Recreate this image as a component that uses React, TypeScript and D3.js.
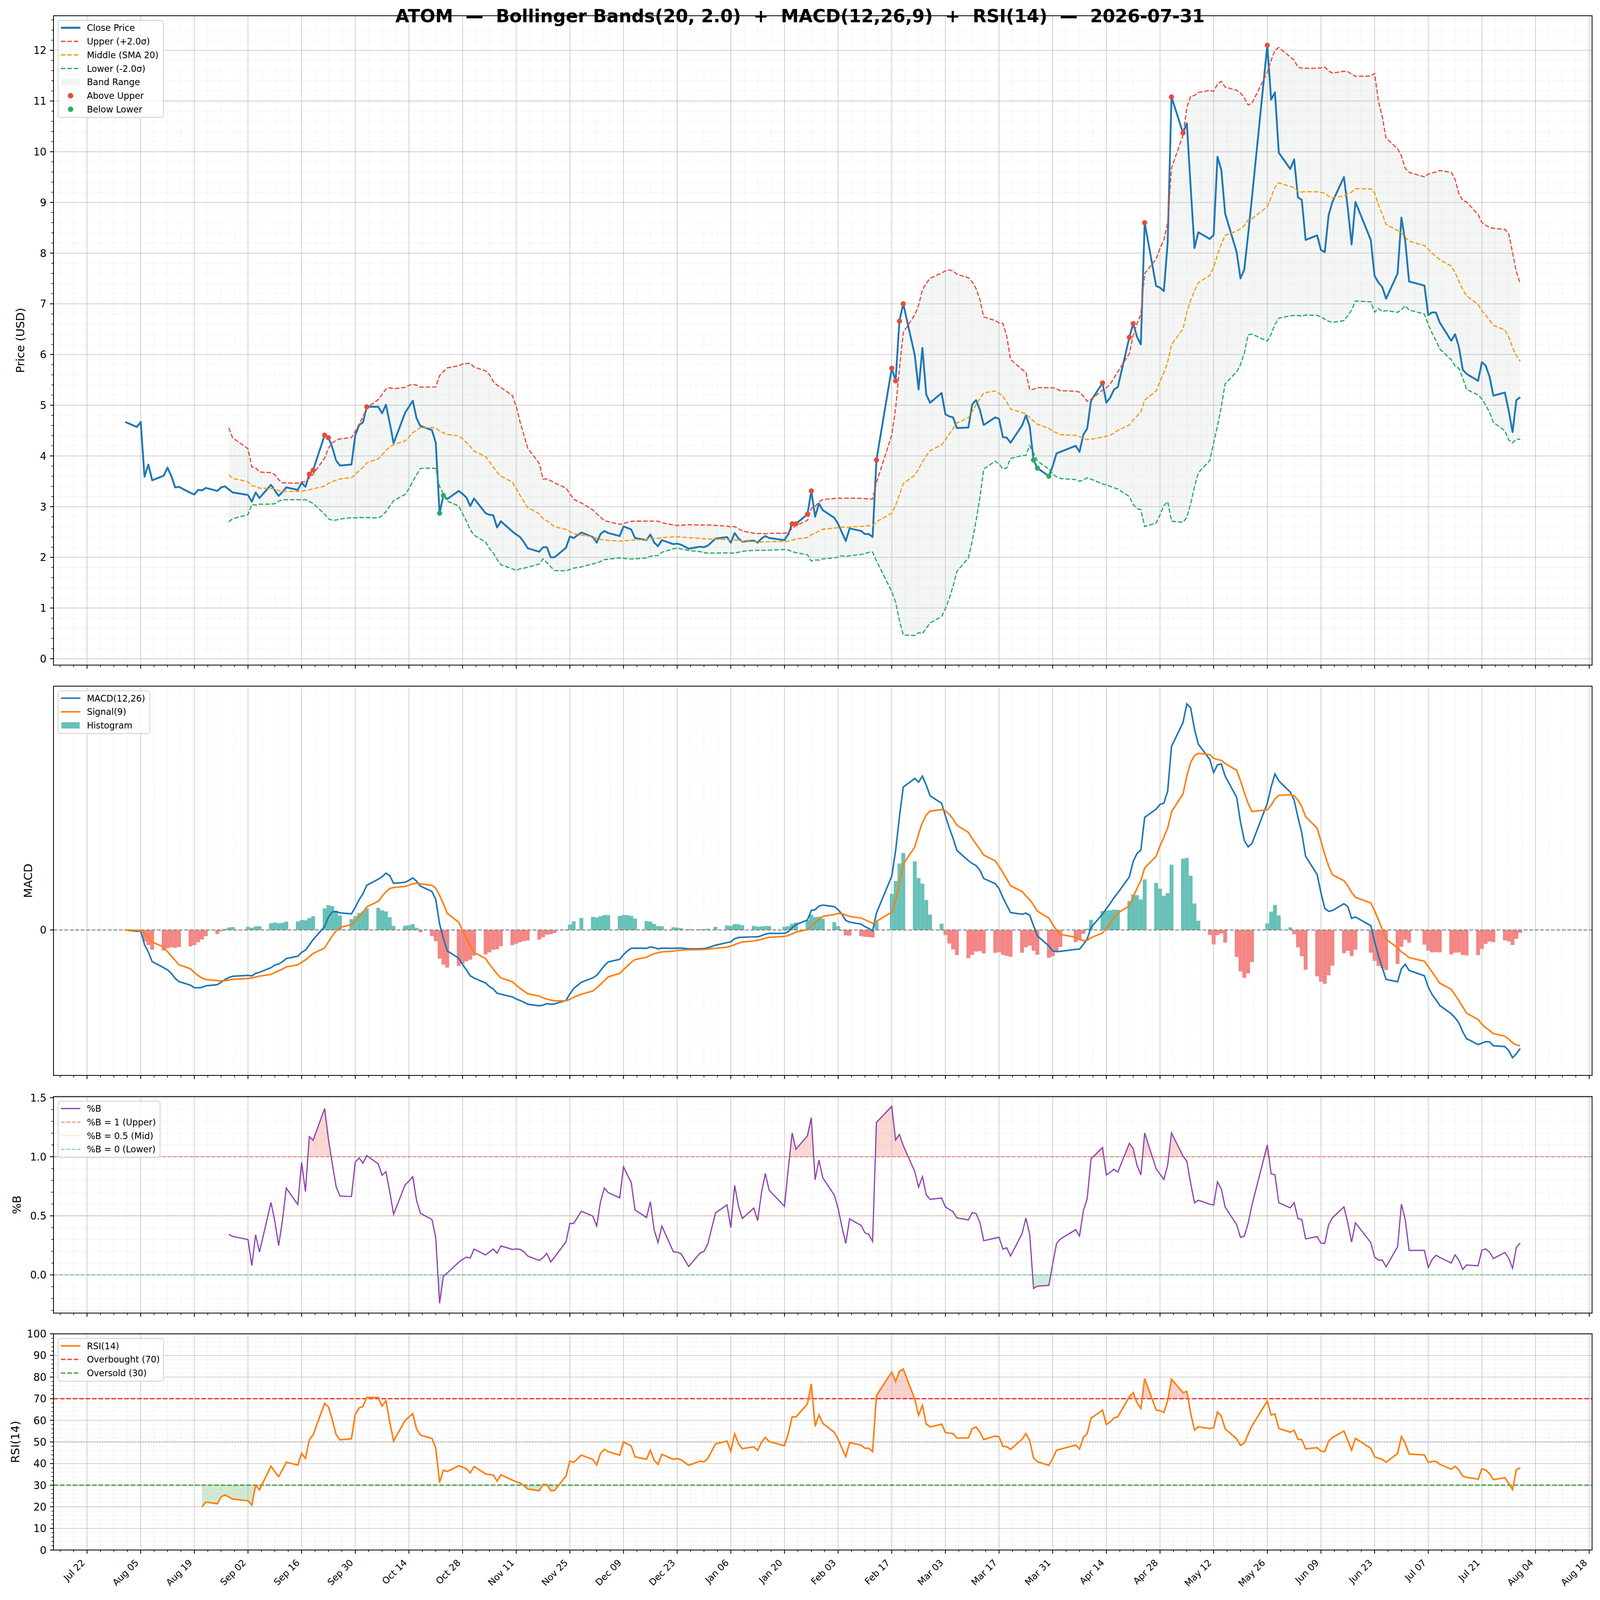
import { useEffect, useRef } from "react";
import * as d3 from "d3";

const TITLE =
  "ATOM  —  Bollinger Bands(20, 2.0)  +  MACD(12,26,9)  +  RSI(14)  —  2026-07-31";

// trading calendar (NYSE days between first and last session)
const FIRST_DAY = "2025-08-01";
const LAST_DAY = "2026-07-31";
const HOLIDAYS = [
  "2025-09-01",
  "2025-11-27",
  "2025-12-25",
  "2026-01-01",
  "2026-01-19",
  "2026-02-16",
  "2026-04-03",
  "2026-05-25",
  "2026-06-19",
  "2026-07-03",
];

// daily close, one row per trading week
const CLOSE = [
  4.67,
  4.57, 4.67, 3.59, 3.83, 3.52,
  3.61, 3.77, 3.6, 3.38, 3.39,
  3.27, 3.24, 3.33, 3.32, 3.37,
  3.31, 3.38, 3.4, 3.34, 3.28,
  3.23, 3.1, 3.28, 3.17,
  3.43, 3.32, 3.21, 3.29, 3.38,
  3.33, 3.47, 3.39, 3.64, 3.72,
  4.41, 4.36, 4.17, 3.91, 3.81,
  3.83, 4.41, 4.61, 4.66, 4.97,
  4.97, 4.84, 5.01, 4.65, 4.25,
  4.85, 4.97, 5.09, 4.74, 4.59,
  4.51, 4.26, 2.87, 3.22, 3.15,
  3.31, 3.25, 3.18, 3.01, 3.16,
  2.87, 2.84, 2.83, 2.59, 2.71,
  2.51, 2.45, 2.4, 2.3, 2.18,
  2.11, 2.2, 2.2, 2.0, 2.0,
  2.19, 2.41, 2.38, 2.49,
  2.4, 2.29, 2.46, 2.52, 2.48,
  2.42, 2.61, 2.58, 2.55, 2.38,
  2.34, 2.45, 2.29, 2.22, 2.34,
  2.26, 2.27, 2.25, 2.17,
  2.21, 2.2, 2.23, 2.37,
  2.4, 2.29, 2.48, 2.37, 2.31,
  2.33, 2.29, 2.37, 2.42, 2.38,
  2.34, 2.46, 2.66, 2.66,
  2.85, 3.31, 2.8, 3.06, 2.93,
  2.78, 2.66, 2.49, 2.32, 2.57,
  2.52, 2.46, 2.46, 2.4, 3.92,
  5.73, 5.48, 6.66, 7.0,
  5.99, 5.31, 6.13, 5.21, 5.05,
  5.24, 4.82, 4.78, 4.76, 4.55,
  4.56, 5.02, 5.1, 4.91, 4.61,
  4.76, 4.73, 4.37, 4.36, 4.26,
  4.6, 4.8, 4.58, 3.92, 3.76,
  3.6, 3.8, 4.05, 4.08,
  4.2, 4.08, 4.42, 4.54, 5.09,
  5.44, 5.05, 5.15, 5.31, 5.36,
  6.34, 6.61, 6.35, 6.2, 8.6,
  7.35, 7.32, 7.25, 8.21, 11.08,
  10.37, 10.56, 9.3, 8.1, 8.41,
  8.28, 8.36, 9.9, 9.64, 8.78,
  8.02, 7.5, 7.68, 8.37, 9.1,
  12.1, 11.03, 11.17, 9.98,
  9.66, 9.85, 9.1, 9.05, 8.26,
  8.35, 8.06, 8.02, 8.75, 9.01,
  9.5, 8.89, 8.17, 9.01,
  8.26, 7.55, 7.42, 7.33, 7.1,
  7.6, 8.7, 8.23, 7.44,
  7.36, 6.78, 6.83, 6.83, 6.63,
  6.27, 6.4, 6.15, 5.7, 5.62,
  5.48, 5.85, 5.78, 5.56, 5.19,
  5.25, 4.89, 4.47, 5.1, 5.16,
];

const X_TICKS = [
  "2025-07-22", "2025-08-05", "2025-08-19", "2025-09-02", "2025-09-16",
  "2025-09-30", "2025-10-14", "2025-10-28", "2025-11-11", "2025-11-25",
  "2025-12-09", "2025-12-23", "2026-01-06", "2026-01-20", "2026-02-03",
  "2026-02-17", "2026-03-03", "2026-03-17", "2026-03-31", "2026-04-14",
  "2026-04-28", "2026-05-12", "2026-05-26", "2026-06-09", "2026-06-23",
  "2026-07-07", "2026-07-21", "2026-08-04", "2026-08-18",
];
const PRICE_TICKS = d3.range(0, 13);
const PCTB_TICKS = [0, 0.5, 1, 1.5];
const RSI_TICKS = d3.range(0, 101, 10);

const BB_PERIOD = 20;
const BB_K = 2;
const MACD_FAST = 12;
const MACD_SLOW = 26;
const MACD_SIGNAL = 9;
const RSI_PERIOD = 14;

const W = 4378;
const H = 4322;
const LEFT = 146.4;
const RIGHT = 4356.3;
const DAY = 86400000;

const BLUE = "#1f77b4";
const ORANGE = "#ff7f0e";
const RED = "#e74c3c";
const GOLD = "#f39c12";
const GREEN = "#27ae60";
const PURPLE = "#8e44ad";
const TEAL = "#26a69a";
const SALMON = "#ef5350";

const parse = (s: string) => new Date(s + "T00:00:00Z");

function tradingDays() {
  const skip = new Set(HOLIDAYS);
  const fmt = d3.utcFormat("%Y-%m-%d");
  const out: Date[] = [];
  for (let d = parse(FIRST_DAY); d <= parse(LAST_DAY); d = d3.utcDay.offset(d, 1)) {
    const wd = d.getUTCDay();
    if (wd === 0 || wd === 6 || skip.has(fmt(d))) continue;
    out.push(d);
  }
  return out;
}

function ema(v: number[], span: number) {
  const a = 2 / (span + 1);
  const out = [v[0]];
  for (let i = 1; i < v.length; i++) out.push(a * v[i] + (1 - a) * out[i - 1]);
  return out;
}

function rsi(c: number[], n: number) {
  const out: (number | null)[] = [null];
  let g = 0;
  let l = 0;
  for (let i = 1; i < c.length; i++) {
    const d = c[i] - c[i - 1];
    const gi = Math.max(d, 0);
    const li = Math.max(-d, 0);
    if (i === 1) {
      g = gi;
      l = li;
    } else {
      g += (gi - g) / n;
      l += (li - l) / n;
    }
    out.push(i >= n ? (l === 0 ? 100 : 100 - 100 / (1 + g / l)) : null);
  }
  return out;
}

function minorTicks(lo: number, hi: number, step: number, every: number) {
  const out: number[] = [];
  for (let k = Math.ceil(lo / step); k * step <= hi; k++) {
    if (k % every !== 0) out.push(k * step);
  }
  return out;
}

export default function App() {
  const svgRef = useRef<SVGSVGElement>(null);

  useEffect(() => {
    document.body.style.margin = "0";
    document.body.style.overflow = "hidden";
    document.documentElement.style.overflow = "hidden";
    if (!svgRef.current) return;

    const dates = tradingDays();
    const n = Math.min(dates.length, CLOSE.length);
    const close = CLOSE.slice(0, n);

    // Bollinger bands
    const mid: (number | null)[] = [];
    const upper: (number | null)[] = [];
    const lower: (number | null)[] = [];
    for (let i = 0; i < n; i++) {
      if (i < BB_PERIOD - 1) {
        mid.push(null);
        upper.push(null);
        lower.push(null);
        continue;
      }
      const win = close.slice(i - BB_PERIOD + 1, i + 1);
      const m = d3.mean(win) as number;
      const s = d3.deviation(win) as number;
      mid.push(m);
      upper.push(m + BB_K * s);
      lower.push(m - BB_K * s);
    }
    const pctB = close.map((c, i) =>
      upper[i] == null ? null : (c - (lower[i] as number)) / ((upper[i] as number) - (lower[i] as number)),
    );

    // MACD
    const fast = ema(close, MACD_FAST);
    const slow = ema(close, MACD_SLOW);
    const macd = fast.map((f, i) => f - slow[i]);
    const signal = ema(macd, MACD_SIGNAL);
    const hist = macd.map((m, i) => m - signal[i]);

    const rsiV = rsi(close, RSI_PERIOD);

    const idx = d3.range(n);

    // shared x scale (bars of one day widen the data limits by half a day)
    const lo = dates[0].getTime() - DAY / 2;
    const hi = dates[n - 1].getTime() + DAY / 2;
    const pad = (hi - lo) * 0.05;
    const x = d3
      .scaleUtc()
      .domain([new Date(lo - pad), new Date(hi + pad)])
      .range([LEFT, RIGHT]);
    const xd = (i: number) => x(dates[i]);

    const majorX = X_TICKS.map(parse);
    const t0 = majorX[0].getTime();
    const minorX: Date[] = [];
    for (let k = -4; k < 4 * X_TICKS.length; k++) {
      if (k % 4 === 0) continue;
      const t = new Date(t0 + k * 3.5 * DAY);
      if (t >= x.domain()[0] && t <= x.domain()[1]) minorX.push(t);
    }

    const svg = d3.select(svgRef.current);
    svg.selectAll("*").remove();
    svg
      .attr("viewBox", `0 0 ${W} ${H}`)
      .attr("preserveAspectRatio", "none")
      .style("font-family", "'DejaVu Sans', sans-serif");
    svg.append("rect").attr("width", W).attr("height", H).attr("fill", "white");
    const defs = svg.append("defs");

    type PanelCfg = {
      key: string;
      top: number;
      bottom: number;
      y: d3.ScaleLinear<number, number>;
      ticks: number[];
      minor: number[];
      hGrid: boolean;
      fmt: (v: number) => string;
      label: string;
      labelX: number;
      xLabels: boolean;
    };

    function panel(cfg: PanelCfg) {
      const { key, top, bottom, y } = cfg;
      defs
        .append("clipPath")
        .attr("id", `clip-${key}`)
        .append("rect")
        .attr("x", LEFT)
        .attr("y", top)
        .attr("width", RIGHT - LEFT)
        .attr("height", bottom - top);
      const root = svg.append("g");
      const fill = root.append("g").attr("clip-path", `url(#clip-${key})`);
      const grid = root.append("g").attr("clip-path", `url(#clip-${key})`);
      const data = root.append("g").attr("clip-path", `url(#clip-${key})`);
      const axes = root.append("g");

      const minorStyle = (s: any) =>
        s
          .attr("stroke", "#b0b0b0")
          .attr("stroke-opacity", 0.4)
          .attr("stroke-width", 1.4)
          .attr("stroke-dasharray", "1.4 2.3");
      const majorStyle = (s: any) =>
        s.attr("stroke", "#b0b0b0").attr("stroke-opacity", 0.6).attr("stroke-width", 2.2);

      grid
        .selectAll(".vmin")
        .data(minorX)
        .join("line")
        .attr("x1", (d) => x(d))
        .attr("x2", (d) => x(d))
        .attr("y1", top)
        .attr("y2", bottom)
        .call(minorStyle);
      if (cfg.hGrid) {
        grid
          .selectAll(".hmin")
          .data(cfg.minor)
          .join("line")
          .attr("x1", LEFT)
          .attr("x2", RIGHT)
          .attr("y1", (d) => y(d))
          .attr("y2", (d) => y(d))
          .call(minorStyle);
        grid
          .selectAll(".hmaj")
          .data(cfg.ticks)
          .join("line")
          .attr("x1", LEFT)
          .attr("x2", RIGHT)
          .attr("y1", (d) => y(d))
          .attr("y2", (d) => y(d))
          .call(majorStyle);
      }
      grid
        .selectAll(".vmaj")
        .data(majorX)
        .join("line")
        .attr("x1", (d) => x(d))
        .attr("x2", (d) => x(d))
        .attr("y1", top)
        .attr("y2", bottom)
        .call(majorStyle);

      // ticks
      axes
        .selectAll(".xt")
        .data(majorX)
        .join("line")
        .attr("x1", (d) => x(d))
        .attr("x2", (d) => x(d))
        .attr("y1", bottom)
        .attr("y2", bottom + 9.7)
        .attr("stroke", "black")
        .attr("stroke-width", 2.2);
      axes
        .selectAll(".xm")
        .data(minorX)
        .join("line")
        .attr("x1", (d) => x(d))
        .attr("x2", (d) => x(d))
        .attr("y1", bottom)
        .attr("y2", bottom + 5.6)
        .attr("stroke", "black")
        .attr("stroke-width", 1.7);
      axes
        .selectAll(".yt")
        .data(cfg.ticks)
        .join("line")
        .attr("x1", LEFT - 9.7)
        .attr("x2", LEFT)
        .attr("y1", (d) => y(d))
        .attr("y2", (d) => y(d))
        .attr("stroke", "black")
        .attr("stroke-width", 2.2);
      axes
        .selectAll(".ym")
        .data(cfg.minor)
        .join("line")
        .attr("x1", LEFT - 5.6)
        .attr("x2", LEFT)
        .attr("y1", (d) => y(d))
        .attr("y2", (d) => y(d))
        .attr("stroke", "black")
        .attr("stroke-width", 1.7);
      axes
        .selectAll(".yl")
        .data(cfg.ticks)
        .join("text")
        .attr("x", LEFT - 19.4)
        .attr("y", (d) => y(d))
        .attr("dy", "0.36em")
        .attr("text-anchor", "end")
        .attr("font-size", 28)
        .text((d) => cfg.fmt(d));
      axes
        .append("text")
        .attr("transform", `translate(${cfg.labelX},${(top + bottom) / 2}) rotate(-90)`)
        .attr("text-anchor", "middle")
        .attr("dy", "0.36em")
        .attr("font-size", 31)
        .text(cfg.label);

      if (cfg.xLabels) {
        const fmt = d3.utcFormat("%b %d");
        axes
          .selectAll(".xl")
          .data(majorX)
          .join("text")
          .attr("text-anchor", "end")
          .attr("font-size", 25)
          .attr(
            "transform",
            (d) => `translate(${x(d) - 4.2},${bottom + 19.4 + 16.4}) rotate(-45)`,
          )
          .text((d) => fmt(d));
      }
      return { fill, data, axes, top, bottom };
    }

    function spines(p: { axes: any; top: number; bottom: number }) {
      p.axes
        .append("rect")
        .attr("x", LEFT)
        .attr("y", p.top)
        .attr("width", RIGHT - LEFT)
        .attr("height", p.bottom - p.top)
        .attr("fill", "none")
        .attr("stroke", "black")
        .attr("stroke-width", 2.2);
    }

    type Item = {
      label: string;
      kind: "line" | "patch" | "dot";
      color: string;
      width?: number;
      dash?: string;
      opacity?: number;
      ph?: number;
    };
    function legend(g: any, top: number, width: number, items: Item[]) {
      const x0 = 159;
      const y0 = top + 12.5;
      const row = 36.7;
      g.append("rect")
        .attr("x", x0)
        .attr("y", y0)
        .attr("width", width)
        .attr("height", 42 + (items.length - 1) * row)
        .attr("rx", 7)
        .attr("fill", "white")
        .attr("fill-opacity", 0.8)
        .attr("stroke", "#d0d0d0")
        .attr("stroke-width", 2.2);
      items.forEach((it, i) => {
        const cy = y0 + 20 + i * row;
        if (it.kind === "line") {
          g.append("line")
            .attr("x1", x0 + 7.7)
            .attr("x2", x0 + 61)
            .attr("y1", cy)
            .attr("y2", cy)
            .attr("stroke", it.color)
            .attr("stroke-width", it.width ?? 3.3)
            .attr("stroke-opacity", it.opacity ?? 1)
            .attr("stroke-dasharray", it.dash ?? null);
        } else if (it.kind === "patch") {
          const ph = it.ph ?? 19;
          g.append("rect")
            .attr("x", x0 + 9)
            .attr("y", cy - ph / 2)
            .attr("width", 50)
            .attr("height", ph)
            .attr("fill", it.color)
            .attr("fill-opacity", it.opacity ?? 1);
        } else {
          g.append("circle")
            .attr("cx", x0 + 34)
            .attr("cy", cy)
            .attr("r", 7.5)
            .attr("fill", it.color);
        }
        g.append("text")
          .attr("x", x0 + 78.7)
          .attr("y", cy)
          .attr("dy", "0.36em")
          .attr("font-size", 24)
          .text(it.label);
      });
    }

    const dash = "12.3 5.3";

    // ---------- price panel ----------
    const priceVals = [
      ...close,
      ...(upper.filter((v) => v != null) as number[]),
      ...(lower.filter((v) => v != null) as number[]),
    ];
    const [pMin, pMax] = d3.extent(priceVals) as [number, number];
    const pPad = (pMax - pMin) * 0.05;
    const yP = d3.scaleLinear().domain([pMin - pPad, pMax + pPad]).range([1796.6, 42.5]);
    const pp = panel({
      key: "price",
      top: 42.5,
      bottom: 1796.6,
      y: yP,
      ticks: PRICE_TICKS,
      minor: minorTicks(yP.domain()[0], yP.domain()[1], 0.2, 5),
      hGrid: true,
      fmt: d3.format("d"),
      label: "Price (USD)",
      labelX: 55,
      xLabels: false,
    });
    const bandIdx = idx.filter((i) => upper[i] != null);
    pp.fill
      .append("path")
      .attr(
        "d",
        d3
          .area<number>()
          .x(xd)
          .y0((i) => yP(lower[i] as number))
          .y1((i) => yP(upper[i] as number))(bandIdx),
      )
      .attr("fill", "#95a5a6")
      .attr("fill-opacity", 0.1);
    const bandLine = (arr: (number | null)[], color: string) =>
      pp.data
        .append("path")
        .attr("d", d3.line<number>().x(xd).y((i) => yP(arr[i] as number))(bandIdx))
        .attr("fill", "none")
        .attr("stroke", color)
        .attr("stroke-width", 3.3)
        .attr("stroke-dasharray", dash);
    pp.data
      .append("path")
      .attr("d", d3.line<number>().x(xd).y((i) => yP(close[i]))(idx))
      .attr("fill", "none")
      .attr("stroke", BLUE)
      .attr("stroke-width", 5)
      .attr("stroke-linejoin", "round");
    bandLine(upper, RED);
    bandLine(mid, GOLD);
    bandLine(lower, GREEN);
    const above = bandIdx.filter((i) => close[i] > (upper[i] as number));
    const below = bandIdx.filter((i) => close[i] < (lower[i] as number));
    pp.data
      .selectAll(".up")
      .data(above)
      .join("circle")
      .attr("cx", xd)
      .attr("cy", (i) => yP(close[i]))
      .attr("r", 7)
      .attr("fill", RED);
    pp.data
      .selectAll(".dn")
      .data(below)
      .join("circle")
      .attr("cx", xd)
      .attr("cy", (i) => yP(close[i]))
      .attr("r", 7)
      .attr("fill", GREEN);
    spines(pp);
    legend(pp.axes, 42.5, 288, [
      { label: "Close Price", kind: "line", color: BLUE, width: 5.5 },
      { label: "Upper (+2.0σ)", kind: "line", color: RED, dash },
      { label: "Middle (SMA 20)", kind: "line", color: GOLD, dash },
      { label: "Lower (-2.0σ)", kind: "line", color: GREEN, dash },
      { label: "Band Range", kind: "patch", color: "#95a5a6", opacity: 0.12 },
      { label: "Above Upper", kind: "dot", color: RED },
      { label: "Below Lower", kind: "dot", color: GREEN },
    ]);

    // ---------- MACD panel ----------
    const mAll = [...macd, ...signal, ...hist, 0];
    const [mMin, mMax] = d3.extent(mAll) as [number, number];
    const mPad = (mMax - mMin) * 0.05;
    const yM = d3.scaleLinear().domain([mMin - mPad, mMax + mPad]).range([2905, 1853.5]);
    const mp = panel({
      key: "macd",
      top: 1853.5,
      bottom: 2905,
      y: yM,
      ticks: [0],
      minor: [],
      hGrid: false,
      fmt: () => "0",
      label: "MACD",
      labelX: 76,
      xLabels: false,
    });
    const barW = x(new Date(t0 + DAY)) - x(new Date(t0));
    mp.fill
      .selectAll(".bar")
      .data(idx)
      .join("rect")
      .attr("x", (i) => xd(i) - barW / 2)
      .attr("width", barW)
      .attr("y", (i) => Math.min(yM(hist[i]), yM(0)))
      .attr("height", (i) => Math.abs(yM(hist[i]) - yM(0)))
      .attr("fill", (i) => (hist[i] >= 0 ? TEAL : SALMON))
      .attr("fill-opacity", 0.7);
    mp.data
      .append("line")
      .attr("x1", LEFT)
      .attr("x2", RIGHT)
      .attr("y1", yM(0))
      .attr("y2", yM(0))
      .attr("stroke", "#808080")
      .attr("stroke-width", 2.8)
      .attr("stroke-dasharray", "10.4 4.5");
    mp.data
      .append("path")
      .attr("d", d3.line<number>().x(xd).y((i) => yM(macd[i]))(idx))
      .attr("fill", "none")
      .attr("stroke", BLUE)
      .attr("stroke-width", 4.2);
    mp.data
      .append("path")
      .attr("d", d3.line<number>().x(xd).y((i) => yM(signal[i]))(idx))
      .attr("fill", "none")
      .attr("stroke", ORANGE)
      .attr("stroke-width", 4.2);
    spines(mp);
    legend(mp.axes, 1853.5, 251, [
      { label: "MACD(12,26)", kind: "line", color: BLUE, width: 4.2 },
      { label: "Signal(9)", kind: "line", color: ORANGE, width: 4.2 },
      { label: "Histogram", kind: "patch", color: TEAL, opacity: 0.7, ph: 17 },
    ]);

    // ---------- %B panel ----------
    const bIdx = idx.filter((i) => pctB[i] != null);
    const [bMin, bMax] = d3.extent(bIdx.map((i) => pctB[i] as number)) as [number, number];
    const bLo = Math.min(bMin, 0);
    const bHi = Math.max(bMax, 1);
    const bPad = (bHi - bLo) * 0.05;
    const yB = d3.scaleLinear().domain([bLo - bPad, bHi + bPad]).range([3547, 2962]);
    const bp = panel({
      key: "pctb",
      top: 2962,
      bottom: 3547,
      y: yB,
      ticks: PCTB_TICKS.filter((v) => v >= yB.domain()[0] && v <= yB.domain()[1]),
      minor: minorTicks(yB.domain()[0], yB.domain()[1], 0.1, 5),
      hGrid: true,
      fmt: d3.format(".1f"),
      label: "%B",
      labelX: 45,
      xLabels: false,
    });
    defs
      .append("clipPath")
      .attr("id", "b-above")
      .append("rect")
      .attr("x", LEFT)
      .attr("width", RIGHT - LEFT)
      .attr("y", 2962)
      .attr("height", yB(1) - 2962);
    defs
      .append("clipPath")
      .attr("id", "b-below")
      .append("rect")
      .attr("x", LEFT)
      .attr("width", RIGHT - LEFT)
      .attr("y", yB(0))
      .attr("height", 3547 - yB(0));
    bp.fill
      .append("path")
      .attr("clip-path", "url(#b-above)")
      .attr("d", d3.area<number>().x(xd).y0(yB(1)).y1((i) => yB(pctB[i] as number))(bIdx))
      .attr("fill", RED)
      .attr("fill-opacity", 0.22);
    bp.fill
      .append("path")
      .attr("clip-path", "url(#b-below)")
      .attr("d", d3.area<number>().x(xd).y0(yB(0)).y1((i) => yB(pctB[i] as number))(bIdx))
      .attr("fill", GREEN)
      .attr("fill-opacity", 0.22);
    const refLine = (g: any, yv: number, color: string, dsh: string, w = 2.8, op = 0.6) =>
      g
        .append("line")
        .attr("x1", LEFT)
        .attr("x2", RIGHT)
        .attr("y1", yv)
        .attr("y2", yv)
        .attr("stroke", color)
        .attr("stroke-width", w)
        .attr("stroke-opacity", op)
        .attr("stroke-dasharray", dsh);
    refLine(bp.data, yB(1), RED, "10.4 4.5");
    refLine(bp.data, yB(0.5), GOLD, "2.8 4.6");
    refLine(bp.data, yB(0), GREEN, "10.4 4.5");
    bp.data
      .append("path")
      .attr("d", d3.line<number>().x(xd).y((i) => yB(pctB[i] as number))(bIdx))
      .attr("fill", "none")
      .attr("stroke", PURPLE)
      .attr("stroke-width", 3.3);
    spines(bp);
    legend(bp.axes, 2962, 279, [
      { label: "%B", kind: "line", color: PURPLE, width: 3.3 },
      { label: "%B = 1 (Upper)", kind: "line", color: RED, width: 2.8, dash: "10.4 4.5", opacity: 0.6 },
      { label: "%B = 0.5 (Mid)", kind: "line", color: GOLD, width: 2.8, dash: "2.8 4.6", opacity: 0.6 },
      { label: "%B = 0 (Lower)", kind: "line", color: GREEN, width: 2.8, dash: "10.4 4.5", opacity: 0.6 },
    ]);

    // ---------- RSI panel ----------
    const yR = d3.scaleLinear().domain([0, 100]).range([4187, 3603]);
    const rp = panel({
      key: "rsi",
      top: 3603,
      bottom: 4187,
      y: yR,
      ticks: RSI_TICKS,
      minor: minorTicks(0, 100, 2, 5),
      hGrid: true,
      fmt: d3.format("d"),
      label: "RSI(14)",
      labelX: 41,
      xLabels: true,
    });
    const rIdx = idx.filter((i) => rsiV[i] != null);
    defs
      .append("clipPath")
      .attr("id", "r-above")
      .append("rect")
      .attr("x", LEFT)
      .attr("width", RIGHT - LEFT)
      .attr("y", 3603)
      .attr("height", yR(70) - 3603);
    defs
      .append("clipPath")
      .attr("id", "r-below")
      .append("rect")
      .attr("x", LEFT)
      .attr("width", RIGHT - LEFT)
      .attr("y", yR(30))
      .attr("height", 4187 - yR(30));
    rp.fill
      .append("path")
      .attr("clip-path", "url(#r-above)")
      .attr("d", d3.area<number>().x(xd).y0(yR(70)).y1((i) => yR(rsiV[i] as number))(rIdx))
      .attr("fill", RED)
      .attr("fill-opacity", 0.25);
    rp.fill
      .append("path")
      .attr("clip-path", "url(#r-below)")
      .attr("d", d3.area<number>().x(xd).y0(yR(30)).y1((i) => yR(rsiV[i] as number))(rIdx))
      .attr("fill", "#2ca02c")
      .attr("fill-opacity", 0.22);
    refLine(rp.data, yR(70), "#ff0000", "12.3 5.3", 3.3, 0.8);
    refLine(rp.data, yR(30), "#008000", "12.3 5.3", 3.3, 0.8);
    refLine(rp.data, yR(50), "#808080", "2.8 4.6", 2.8, 0.6);
    rp.data
      .append("path")
      .attr("d", d3.line<number>().x(xd).y((i) => yR(rsiV[i] as number))(rIdx))
      .attr("fill", "none")
      .attr("stroke", ORANGE)
      .attr("stroke-width", 4.2);
    spines(rp);
    legend(rp.axes, 3603, 288, [
      { label: "RSI(14)", kind: "line", color: ORANGE, width: 4.2 },
      { label: "Overbought (70)", kind: "line", color: "#ff0000", dash: "12.3 5.3", opacity: 0.8 },
      { label: "Oversold (30)", kind: "line", color: "#008000", dash: "12.3 5.3", opacity: 0.8 },
    ]);

    // ---------- title ----------
    svg
      .append("text")
      .attr("x", W / 2)
      .attr("y", 60)
      .attr("text-anchor", "middle")
      .attr("font-size", 49)
      .attr("font-weight", "bold")
      .style("white-space", "pre")
      .text(TITLE);
  }, []);

  return (
    <svg
      ref={svgRef}
      viewBox={`0 0 ${W} ${H}`}
      preserveAspectRatio="none"
      style={{ display: "block", width: "100vw", height: "100vh" }}
    />
  );
}
